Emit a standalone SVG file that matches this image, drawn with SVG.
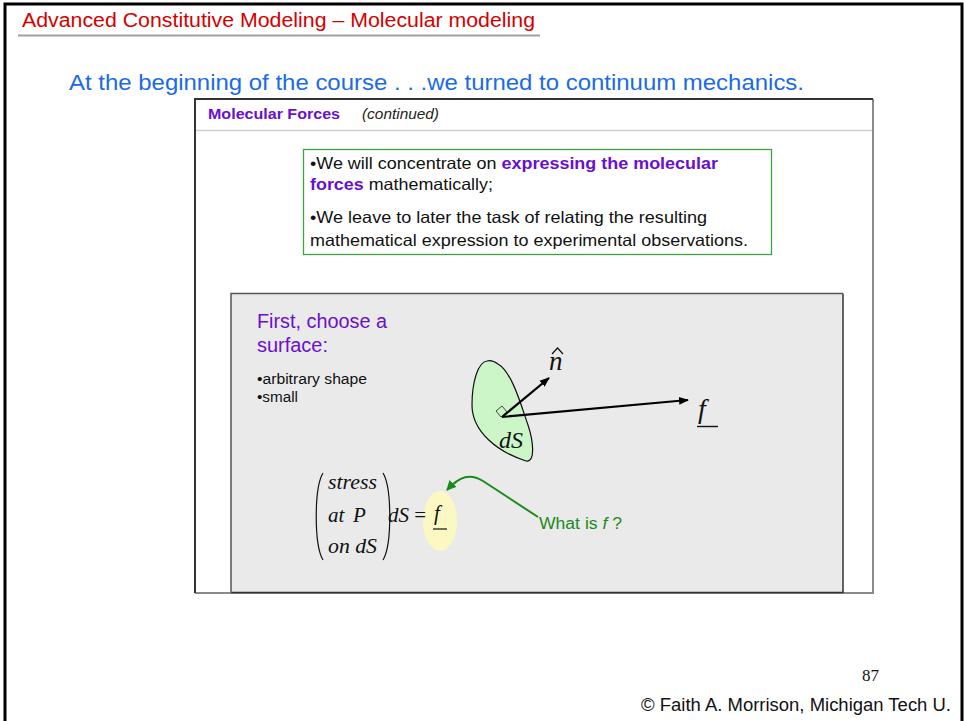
<svg xmlns="http://www.w3.org/2000/svg" width="964" height="721" viewBox="0 0 964 721">
<style>
.s{font-family:"Liberation Sans",Arial,sans-serif}
.m{font-family:"Liberation Serif","Times New Roman",serif;font-style:italic}
.p{fill:#6a0fd0}
</style>
<defs>
<marker id="ah" viewBox="0 0 10 10" refX="9" refY="5" markerWidth="10" markerHeight="10" markerUnits="userSpaceOnUse" orient="auto"><path d="M0,1 L10,5 L0,9 Z" fill="#000"/></marker>
<marker id="gh" viewBox="0 0 10 10" refX="9" refY="5" markerWidth="10" markerHeight="10" markerUnits="userSpaceOnUse" orient="auto"><path d="M0,0 L10,5 L0,10 Z" fill="#1a8a1a"/></marker>
</defs>
<rect width="964" height="721" fill="#fff"/>
<g id="slide-frame">
<path d="M5,721 V4 H962 V721" fill="none" stroke="#000" stroke-width="3"/>
</g>
<g id="title">
<text class="s" x="22" y="27" font-size="19.5" fill="#d40000" textLength="513" lengthAdjust="spacingAndGlyphs">Advanced Constitutive Modeling – Molecular modeling</text>
<line x1="18" y1="35.5" x2="540" y2="35.5" stroke="#a0a0a0" stroke-width="2"/>
</g>
<g id="subtitle">
<text class="s" x="69" y="90" font-size="22.5" fill="#1a6be8" textLength="735" lengthAdjust="spacingAndGlyphs">At the beginning of the course . . .we turned to continuum mechanics.</text>
</g>
<g id="panel">
<rect x="195" y="99" width="678" height="494" fill="#fff"/>
<path d="M873,99 V593 H195" fill="none" stroke="#8a8a8a" stroke-width="2"/>
<path d="M195,593 V99 H873" fill="none" stroke="#333" stroke-width="2"/>
<line x1="196" y1="130.5" x2="872" y2="130.5" stroke="#d0d0d0" stroke-width="1.5"/>
<text class="s p" x="208" y="119" font-size="14" font-weight="bold" textLength="132" lengthAdjust="spacingAndGlyphs">Molecular  Forces</text>
<text class="s" x="362" y="119" font-size="14" font-style="italic" fill="#222" textLength="77" lengthAdjust="spacingAndGlyphs">(continued)</text>
</g>
<g id="note-box">
<rect x="303.5" y="149.5" width="468" height="105" fill="#fff" stroke="#3fa33f" stroke-width="1.3"/>
<text class="s" x="310" y="169" font-size="16.5" fill="#111" textLength="408" lengthAdjust="spacingAndGlyphs">•We will concentrate on <tspan class="p" font-weight="bold">expressing the molecular</tspan></text>
<text class="s" x="310" y="190" font-size="16.5" fill="#111" textLength="183" lengthAdjust="spacingAndGlyphs"><tspan class="p" font-weight="bold">forces</tspan> mathematically;</text>
<text class="s" x="310" y="223" font-size="16.5" fill="#111" textLength="397" lengthAdjust="spacingAndGlyphs">•We leave to later the task of relating the resulting</text>
<text class="s" x="310" y="246" font-size="16.5" fill="#111" textLength="438" lengthAdjust="spacingAndGlyphs">mathematical expression to experimental observations.</text>
</g>
<g id="surface-panel">
<rect x="231" y="293.5" width="612" height="299" fill="#eaeaea"/>
<path d="M843,293.5 V592.5 H231" fill="none" stroke="#333" stroke-width="1.5"/>
<path d="M231,592.5 V293.5 H843" fill="none" stroke="#555" stroke-width="1.5"/>
<text class="s p" x="257" y="328" font-size="19.5" textLength="130" lengthAdjust="spacingAndGlyphs">First, choose a</text>
<text class="s p" x="257" y="352" font-size="19.5" textLength="71" lengthAdjust="spacingAndGlyphs">surface:</text>
<text class="s" x="257" y="384" font-size="14" fill="#111" textLength="110" lengthAdjust="spacingAndGlyphs">•arbitrary shape</text>
<text class="s" x="257" y="402" font-size="14" fill="#111" textLength="41" lengthAdjust="spacingAndGlyphs">•small</text>
</g>
<g id="surface-dS">
<path d="M487,361 C478,362 472,382 472,405 C472,432 498,452 526,461 C536,463 533,440 528,425 C521,405 512,372 498,364 C494,361 490,360 487,361 Z" fill="#ccf5c8" stroke="#111" stroke-width="1.2"/>
<path d="M496,411 L502,406 L507,412 L501,417 Z" fill="none" stroke="#333" stroke-width="0.9"/>
<text class="m" x="499" y="448" font-size="24" fill="#111">dS</text>
</g>
<g id="vectors">
<line x1="502" y1="417" x2="549" y2="378" stroke="#000" stroke-width="2.2" marker-end="url(#ah)"/>
<line x1="502" y1="417" x2="688" y2="400" stroke="#000" stroke-width="2.2" marker-end="url(#ah)"/>
<text class="m" x="549" y="370" font-size="27" fill="#111">n</text>
<path d="M552,354 L557.5,348 L563,354" fill="none" stroke="#111" stroke-width="1.2"/>
<text class="m" x="698" y="418" font-size="28" fill="#111">f</text>
<line x1="697" y1="426.5" x2="718" y2="426.5" stroke="#111" stroke-width="1.4"/>
</g>
<g id="equation">
<ellipse cx="440" cy="521" rx="17" ry="30" fill="#fbf8c4"/>
<path d="M323,473 C314,488 314,545 323,560" fill="none" stroke="#111" stroke-width="1.2"/>
<path d="M383,473 C392,488 392,545 383,560" fill="none" stroke="#111" stroke-width="1.2"/>
<text class="m" x="328" y="489" font-size="21" fill="#111" textLength="49" lengthAdjust="spacingAndGlyphs">stress</text>
<text class="m" x="328" y="522" font-size="21" fill="#111">at<tspan x="353">P</tspan></text>
<text class="m" x="328" y="553" font-size="21" fill="#111" textLength="49" lengthAdjust="spacingAndGlyphs">on dS</text>
<text class="m" x="388" y="522" font-size="21" fill="#111">dS <tspan font-style="normal">=</tspan></text>
<text class="m" x="434" y="520" font-size="21" fill="#111">f</text>
<line x1="433" y1="529" x2="447" y2="529" stroke="#111" stroke-width="1.2"/>
</g>
<g id="connectors">
<path d="M538,517 L483,481 C470,473 460,476 447,490" fill="none" stroke="#1a8a1a" stroke-width="2" marker-end="url(#gh)"/>
</g>
<g id="question">
<text class="s" x="539" y="529" font-size="16" fill="#1a8a1a" textLength="83" lengthAdjust="spacingAndGlyphs">What is <tspan font-style="italic">f</tspan> ?</text>
</g>
<g id="footer">
<text x="862" y="681" font-family="'Liberation Serif','Times New Roman',serif" font-size="17" fill="#111">87</text>
<text class="s" x="641" y="711" font-size="17.5" fill="#111" textLength="310" lengthAdjust="spacingAndGlyphs">© Faith A. Morrison, Michigan Tech U.</text>
</g>
</svg>
